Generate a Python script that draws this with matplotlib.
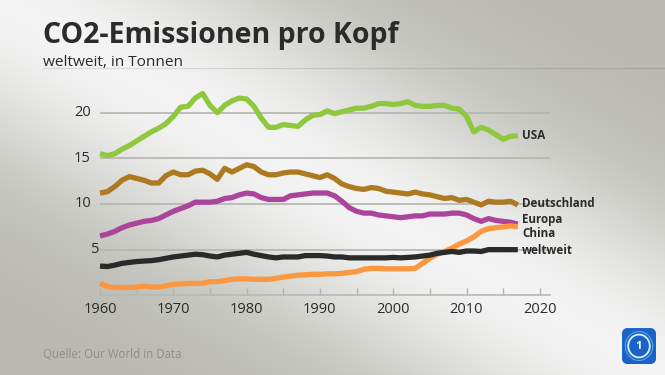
import numpy as np
import matplotlib
matplotlib.use("Agg")
import matplotlib.pyplot as plt
from matplotlib.patches import FancyBboxPatch, Circle
from matplotlib.colors import LinearSegmentedColormap

plt.rcParams['font.family'] = ['Open Sans', 'DejaVu Sans']

# ---------------- data ----------------
years = list(range(1960, 2018))
usa = [15.5, 15.3, 15.5, 16.0, 16.4, 16.9, 17.4, 17.9, 18.3, 18.8,
       19.6, 20.6, 20.7, 21.6, 22.1, 20.8, 20.0, 20.8, 21.3, 21.6,
       21.5, 20.7, 19.4, 18.4, 18.4, 18.7, 18.6, 18.5, 19.2, 19.7,
       19.8, 20.2, 19.9, 20.1, 20.3, 20.5, 20.5, 20.7, 21.0, 21.0,
       20.9, 21.0, 21.2, 20.8, 20.7, 20.7, 20.8, 20.8, 20.5, 20.4,
       19.6, 17.9, 18.4, 18.1, 17.6, 17.1, 17.4, 17.5]
deutschland = [11.2, 11.35, 11.9, 12.6, 13.0, 12.8, 12.6, 12.3, 12.3, 13.1,
               13.5, 13.2, 13.2, 13.6, 13.7, 13.3, 12.7, 13.9, 13.5, 13.9,
               14.3, 14.1, 13.5, 13.2, 13.2, 13.4, 13.5, 13.5, 13.3, 13.1,
               12.9, 13.2, 12.8, 12.2, 11.9, 11.7, 11.6, 11.8, 11.7, 11.4,
               11.3, 11.2, 11.1, 11.3, 11.1, 11.0, 10.8, 10.6, 10.7, 10.4,
               10.5, 10.2, 9.9, 10.3, 10.2, 10.2, 10.3, 9.9]
europa = [6.5, 6.7, 7.0, 7.4, 7.7, 7.9, 8.1, 8.2, 8.4, 8.8,
          9.2, 9.5, 9.8, 10.2, 10.2, 10.2, 10.3, 10.6, 10.7, 11.0,
          11.2, 11.1, 10.7, 10.5, 10.5, 10.5, 10.9, 11.0, 11.1, 11.2,
          11.2, 11.2, 10.9, 10.3, 9.6, 9.2, 9.0, 9.0, 8.8, 8.7,
          8.6, 8.5, 8.6, 8.7, 8.7, 8.9, 8.9, 8.9, 9.0, 9.0,
          8.8, 8.4, 8.1, 8.4, 8.2, 8.1, 8.0, 7.8]
china = [1.3, 0.95, 0.85, 0.85, 0.85, 0.9, 1.0, 0.9, 0.9, 1.05,
         1.2, 1.25, 1.3, 1.3, 1.3, 1.5, 1.5, 1.6, 1.75, 1.8,
         1.8, 1.75, 1.75, 1.75, 1.85, 2.0, 2.1, 2.2, 2.25, 2.3,
         2.3, 2.35, 2.35, 2.4, 2.5, 2.6, 2.85, 2.95, 2.95, 2.9,
         2.9, 2.9, 2.9, 2.95, 3.5, 4.05, 4.5, 4.8, 5.15, 5.6,
         5.95, 6.4, 7.0, 7.3, 7.4, 7.5, 7.6, 7.5]
weltweit = [3.2, 3.15, 3.3, 3.5, 3.6, 3.7, 3.75, 3.8, 3.9, 4.05,
            4.2, 4.3, 4.4, 4.5, 4.45, 4.3, 4.2, 4.4, 4.5, 4.6,
            4.7, 4.5, 4.35, 4.2, 4.1, 4.2, 4.2, 4.2, 4.35, 4.35,
            4.35, 4.3, 4.2, 4.2, 4.1, 4.1, 4.1, 4.1, 4.1, 4.1,
            4.15, 4.1, 4.15, 4.2, 4.3, 4.4, 4.6, 4.7, 4.8, 4.7,
            4.85, 4.85, 4.8, 5.0, 5.0, 5.0, 5.0, 5.0]

names = ["USA", "Deutschland", "Europa", "China", "weltweit"]
y_ticks = [5, 10, 15, 20]
y_ticklabels = ["5", "10", "15", "20"]
x_ticks = [1960, 1970, 1980, 1990, 2000, 2010, 2020]
x_minor = list(range(1960, 2021, 5))

title = "CO2-Emissionen pro Kopf"
subtitle = "weltweit, in Tonnen"
source = "Quelle: Our World in Data"

# ---------------- styling ----------------
colors = {"USA": "#8fc73e", "Deutschland": "#ad7a21", "Europa": "#ac449c",
          "China": "#fb9740", "weltweit": "#2a2a2a"}
series = {"USA": usa, "Deutschland": deutschland, "Europa": europa,
          "China": china, "weltweit": weltweit}
draw_order = ["USA", "Deutschland", "Europa", "China", "weltweit"]
label_y = {"USA": 17.45, "Deutschland": 10.0, "Europa": 8.35,
           "China": 6.8, "weltweit": 4.95}
TXT = "#2b2b2b"

W, H = 665, 375
fig = plt.figure(figsize=(W / 100, H / 100), dpi=100)

# background gradient
bg = fig.add_axes([0, 0, 1, 1], zorder=-10)
yy, xx = np.mgrid[0:H, 0:W]
u = xx / W
v = yy / H
d = v - u
dark = 1 - np.exp(-(d / 0.42) ** 2)
b = 0.955 - 0.23 * dark
img = np.dstack([b, b, b - 0.03 * dark])
bg.imshow(img, extent=[0, 1, 0, 1], aspect='auto', origin='upper')
bg.set_xlim(0, 1)
bg.set_ylim(0, 1)
bg.axis('off')

# main axes
px_per_year = 7.33
px_per_unit = 9.13
ax_left, ax_right, ax_bottom, ax_top = 100, 550, 295.3, 85
ax = fig.add_axes([ax_left / W, 1 - ax_bottom / H, (ax_right - ax_left) / W,
                   (ax_bottom - ax_top) / H])
ax.set_xlim(1960, 1960 + (ax_right - ax_left) / px_per_year)
ax.set_ylim(0, (ax_bottom - ax_top) / px_per_unit)
ax.patch.set_alpha(0)

for s in ["top", "right", "left"]:
    ax.spines[s].set_visible(False)
ax.spines["bottom"].set_color("#b8b8b4")
ax.spines["bottom"].set_linewidth(1.2)

for yv in y_ticks:
    ax.axhline(yv, color="#b4b4b0", lw=1.2, zorder=1)

ax.set_yticks([])
for yv, lab in zip(y_ticks, y_ticklabels):
    off = -1 if lab == "5" else -9
    ax.annotate(lab, xy=(0, yv), xycoords=("axes fraction", "data"),
                xytext=(off * 0.72, 0), textcoords="offset points",
                ha="right", va="center", fontsize=10.5, color=TXT)

ax.set_xticks(x_ticks)
ax.set_xticklabels([str(x) for x in x_ticks])
ax.set_xticks(x_minor, minor=True)
ax.tick_params(axis="x", which="both", direction="in", length=5,
               width=1.0, color="#b4b4b0", labelsize=10.5, labelcolor=TXT, pad=5)

for name in draw_order:
    ax.plot(years, series[name], color=colors[name], lw=3.8,
            solid_joinstyle="round", solid_capstyle="butt", zorder=3,
            clip_on=False)

labels = []
for name in names:
    t = ax.annotate(name, xy=(years[-1], label_y[name]),
                    xytext=(3, 0), textcoords="offset points",
                    ha="left", va="center", fontsize=10, color=TXT,
                    fontweight="bold")
    labels.append(t)

# title texts
t_title = fig.text(43 / W, 1 - 43.3 / H, title, fontsize=21, fontweight="bold",
                   color=TXT, va="baseline", ha="left")
t_sub = fig.text(43 / W, 1 - 66 / H, subtitle, fontsize=10.5, color=TXT,
                 va="baseline", ha="left")
t_src = fig.text(43 / W, 1 - 358 / H, source, fontsize=8.5, color="#8e8e8c",
                 va="baseline", ha="left")
fig.add_artist(plt.Line2D([43 / W, 1], [1 - 67.5 / H, 1 - 67.5 / H],
                          color="black", alpha=0.1, lw=0.9,
                          transform=fig.transFigure))

fig.canvas.draw()
r = fig.canvas.get_renderer()


def fit(t, target):
    w = t.get_window_extent(r).width
    t.set_fontsize(t.get_fontsize() * target / w)


fit(t_title, 355)
fit(t_sub, 140)
fit(t_src, 138)
dl = labels[names.index("Deutschland")]
w = dl.get_window_extent(r).width
scale = 73.3 / w
for t in labels:
    t.set_fontsize(t.get_fontsize() * scale)

# logo
lax = fig.add_axes([621 / W, 1 - 365 / H, 36 / W, 38 / H])
lax.set_xlim(0, 1)
lax.set_ylim(0, 1)
lax.axis("off")
box = FancyBboxPatch((0.03, 0.03), 0.94, 0.94,
                     boxstyle="round,pad=0,rounding_size=0.16",
                     fc="#1b63c6", ec="none")
lax.add_patch(box)
cmap = LinearSegmentedColormap.from_list("b", ["#0a3a8c", "#1e74d6", "#3aa0ee"])
grad = np.linspace(0, 1, 64)[:, None] * np.ones((1, 8))
im = lax.imshow(grad, extent=[0, 1, 0, 1], origin="lower", cmap=cmap,
                aspect="auto")
im.set_clip_path(box)
lax.add_patch(Circle((0.5, 0.5), 0.3, fill=False, ec="#d8f0ff", lw=1.3))
lax.add_patch(Circle((0.5, 0.5), 0.38, fill=False, ec="#6fc2ff", lw=0.8, alpha=0.7))
lax.text(0.5, 0.48, "1", color="white", fontsize=8, fontweight="bold",
         ha="center", va="center")

fig.savefig("out.png", dpi=100)
